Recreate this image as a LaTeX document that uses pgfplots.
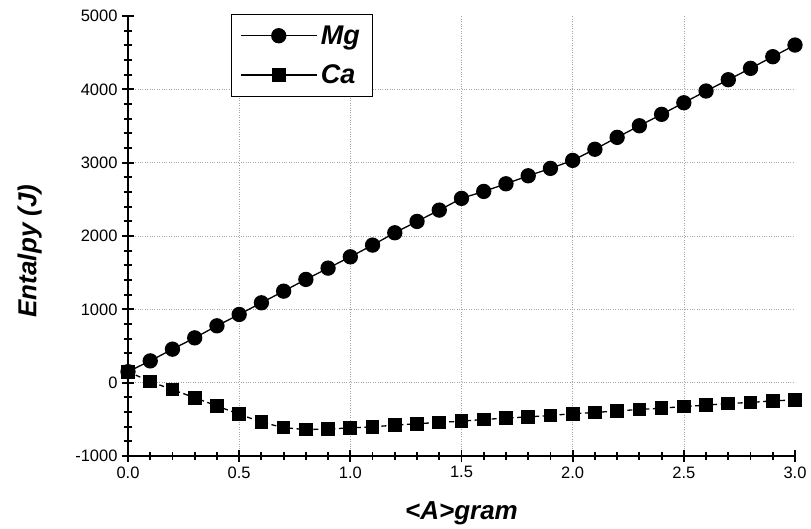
\documentclass[border=0pt]{standalone}
\usepackage{fontspec}
\setmainfont{Liberation Sans}
\usepackage{pgfplots}
\pgfplotsset{compat=1.18}
\usetikzlibrary{calc}

\pgfplotstableread{
x     mg     ca
0.0   150    150
0.1   297    15
0.2   457   -95
0.3   611   -205
0.4   775   -318
0.5   930   -430
0.6   1089  -538
0.7   1248  -613
0.8   1408  -640
0.9   1562  -632
1.0   1716  -617
1.1   1876  -602
1.2   2044  -580
1.3   2199  -559
1.4   2353  -543
1.5   2513  -525
1.6   2608  -502
1.7   2712  -484
1.8   2821  -466
1.9   2922  -448
2.0   3031  -423
2.1   3183  -407
2.2   3345  -385
2.3   3503  -366
2.4   3659  -348
2.5   3817  -325
2.6   3977  -307
2.7   4131  -284
2.8   4286  -270
2.9   4445  -248
3.0   4604  -235
}\enthalpy

\begin{document}
\begin{tikzpicture}
\begin{axis}[
  scale only axis,
  width=667pt, height=440pt,
  xmin=0, xmax=3, ymin=-1000, ymax=5000,
  axis lines*=left,
  axis line style={line width=2.6pt},
  xtick={0,0.5,1,1.5,2,2.5}, extra x ticks={3},
  ytick={-1000,0,1000,2000,3000,4000}, extra y ticks={5000},
  extra tick style={grid=none},
  minor xtick={0,0.1,...,3.01},
  minor ytick={-1000,-800,...,5000},
  tick align=center,
  major tick length=12pt, minor tick length=8pt,
  every tick/.style={black, line width=1.8pt},
  grid=major,
  major grid style={gray!70, dotted, line width=0.6pt},
  /pgf/number format/assume math mode=true,
  /pgf/number format/1000 sep={},
  xticklabel style={/pgf/number format/fixed, /pgf/number format/fixed zerofill, /pgf/number format/precision=1},
  ticklabel style={font=\fontsize{16.5}{18}\selectfont},
  xticklabel style={yshift=-1pt},
  yticklabel style={xshift=-1pt},
  xlabel={<A>gram},
  ylabel={Entalpy (J)},
  label style={font=\fontsize{26}{28}\selectfont\bfseries\itshape},
  xlabel style={yshift=-5pt},
  ylabel style={at={(rel axis cs:-0.124,0.466)}, anchor=south},
  clip=false,
  legend cell align=left,
  legend style={at={(rel axis cs:0.154,1.005)}, anchor=north west,
    draw=black, line width=0.8pt, fill=white,
    font=\fontsize{27}{29}\selectfont\bfseries\itshape,
    inner xsep=9pt, inner ysep=8pt, row sep=12pt,
    nodes={inner sep=3.5pt}},
  legend image code/.code={
    \draw[mark repeat=2, mark phase=2, #1, solid] plot coordinates {(0pt,0pt) (38pt,0pt) (76pt,0pt)};
  },
]
\addplot[black, line width=1.3pt, mark=*, mark size=7pt] table[x=x, y=mg] {\enthalpy};
\addlegendentry{Mg}
\addplot[black, line width=1.3pt, dash pattern=on 5pt off 3.5pt, mark=square*, mark size=6.2pt, mark options={solid}] table[x=x, y=ca] {\enthalpy};
\addlegendentry{Ca}
\coordinate (O) at (rel axis cs:0,0);
\coordinate (T) at (rel axis cs:1,1);
\end{axis}
\path ($(O)+(-128pt,-68pt)$) rectangle ($(T)+(16pt,16pt)$);
\end{tikzpicture}
\end{document}
